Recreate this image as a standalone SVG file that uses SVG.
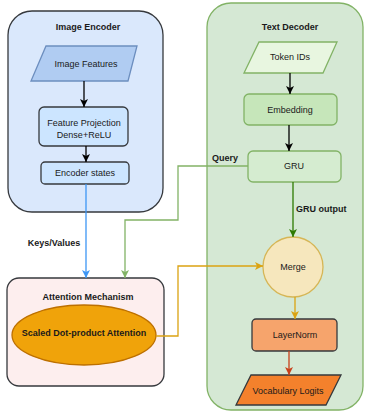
<svg xmlns="http://www.w3.org/2000/svg" width="366" height="412" viewBox="0 0 366 412">
<style>
text{font-family:"Liberation Sans",Arial,sans-serif;font-size:9px;fill:#1a1a1a;text-anchor:middle}
.b{font-weight:bold}
.dark{stroke:#36393d;stroke-width:1.3}
.grn{stroke:#82b366;stroke-width:1.3}
.c{fill:none;stroke-width:1.3}
</style>
<defs>
<marker id="aK" markerUnits="userSpaceOnUse" markerWidth="10" markerHeight="10" refX="8" refY="4" orient="auto"><path d="M0,0 L8,4 L0,8 L2,4 Z" fill="#000"/></marker>
<marker id="aB" markerUnits="userSpaceOnUse" markerWidth="10" markerHeight="10" refX="8" refY="4" orient="auto"><path d="M0,0 L8,4 L0,8 L2,4 Z" fill="#3d96f5"/></marker>
<marker id="aG" markerUnits="userSpaceOnUse" markerWidth="10" markerHeight="10" refX="8" refY="4" orient="auto"><path d="M0,0 L8,4 L0,8 L2,4 Z" fill="#82b366"/></marker>
<marker id="aD" markerUnits="userSpaceOnUse" markerWidth="10" markerHeight="10" refX="8" refY="4" orient="auto"><path d="M0,0 L8,4 L0,8 L2,4 Z" fill="#2d7a00"/></marker>
<marker id="aO" markerUnits="userSpaceOnUse" markerWidth="10" markerHeight="10" refX="8" refY="4" orient="auto"><path d="M0,0 L8,4 L0,8 L2,4 Z" fill="#dba312"/></marker>
<marker id="aR" markerUnits="userSpaceOnUse" markerWidth="10" markerHeight="10" refX="8" refY="4" orient="auto"><path d="M0,0 L8,4 L0,8 L2,4 Z" fill="#c8401a"/></marker>
</defs>

<g id="image-encoder">
<rect x="8" y="11" width="155" height="201" rx="24" fill="#dae8fc" class="dark"/>
<text x="88" y="30" class="b">Image Encoder</text>
</g>
<g id="text-decoder">
<rect x="207" y="3" width="156" height="407" rx="24" fill="#d5e8d4" class="grn"/>
<text x="290" y="30" class="b">Text Decoder</text>
</g>
<g id="attention-mechanism">
<rect x="7" y="278" width="157" height="108" rx="12" fill="#fdeeee" class="dark"/>
<text x="88" y="300" class="b">Attention Mechanism</text>
</g>

<g id="image-features">
<polygon points="46,46 137,46 128,81 31,81" fill="#b0ccf2" stroke="#6c8ebf" stroke-width="1.3"/>
<text x="86" y="67">Image Features</text>
</g>
<g id="feature-projection">
<rect x="39" y="107" width="89" height="39" rx="5" fill="#cce5ff" class="dark"/>
<text x="84" y="126">Feature Projection</text>
<text x="84" y="138">Dense+ReLU</text>
</g>
<g id="encoder-states">
<rect x="41" y="162" width="88" height="22" rx="4" fill="#cce5ff" class="dark"/>
<text x="85" y="176">Encoder states</text>
</g>
<g id="scaled-attention">
<ellipse cx="84" cy="335" rx="72" ry="30" fill="#f0a30a" stroke="#bd7000" stroke-width="1.3"/>
<text x="84" y="336" class="b">Scaled Dot-product Attention</text>
</g>
<g id="token-ids">
<polygon points="259,42 337,42 323,73 244,73" fill="#e8f6e0" class="grn"/>
<text x="290" y="60">Token IDs</text>
</g>
<g id="embedding">
<rect x="244" y="94" width="93" height="31" rx="5" fill="#c6e6ba" class="grn"/>
<text x="290" y="113">Embedding</text>
</g>
<g id="gru">
<rect x="248" y="151" width="93" height="31" rx="5" fill="#d5ecd0" class="grn"/>
<text x="294" y="169">GRU</text>
</g>
<g id="merge">
<circle cx="293" cy="267" r="30" fill="#f6e7bd" stroke="#d6b656" stroke-width="1.3"/>
<text x="293" y="270">Merge</text>
</g>
<g id="layernorm">
<rect x="252" y="319" width="85" height="32" rx="4" fill="#f6a46c" class="dark"/>
<text x="295" y="338">LayerNorm</text>
</g>
<g id="vocabulary-logits">
<polygon points="251,375 341,375 326,405 236,405" fill="#f4812c" class="dark"/>
<text x="288" y="394">Vocabulary Logits</text>
</g>

<g id="connectors">
<path d="M84,81 V107" class="c" stroke="#000" marker-end="url(#aK)"/>
<path d="M86,146 V162" class="c" stroke="#000" marker-end="url(#aK)"/>
<path d="M290,73 V94" class="c" stroke="#000" marker-end="url(#aK)"/>
<path d="M289,125 V151" class="c" stroke="#000" marker-end="url(#aK)"/>
<path d="M86,184 V278" class="c" stroke="#3d96f5" marker-end="url(#aB)"/>
<text x="54" y="246" class="b">Keys/Values</text>
<path d="M248,166 H178 V220 H125 V278" class="c" stroke="#82b366" marker-end="url(#aG)"/>
<text x="225" y="161" class="b">Query</text>
<path d="M293,182 V237" class="c" stroke="#2d7a00" marker-end="url(#aD)"/>
<text x="296" y="212" class="b" style="text-anchor:start">GRU output</text>
<path d="M156,336 H178 V266 H263" class="c" stroke="#dba312" marker-end="url(#aO)"/>
<path d="M295,297 V319" class="c" stroke="#dba312" marker-end="url(#aO)"/>
<path d="M289,351 V375" class="c" stroke="#c8401a" marker-end="url(#aR)"/>
</g>
</svg>
